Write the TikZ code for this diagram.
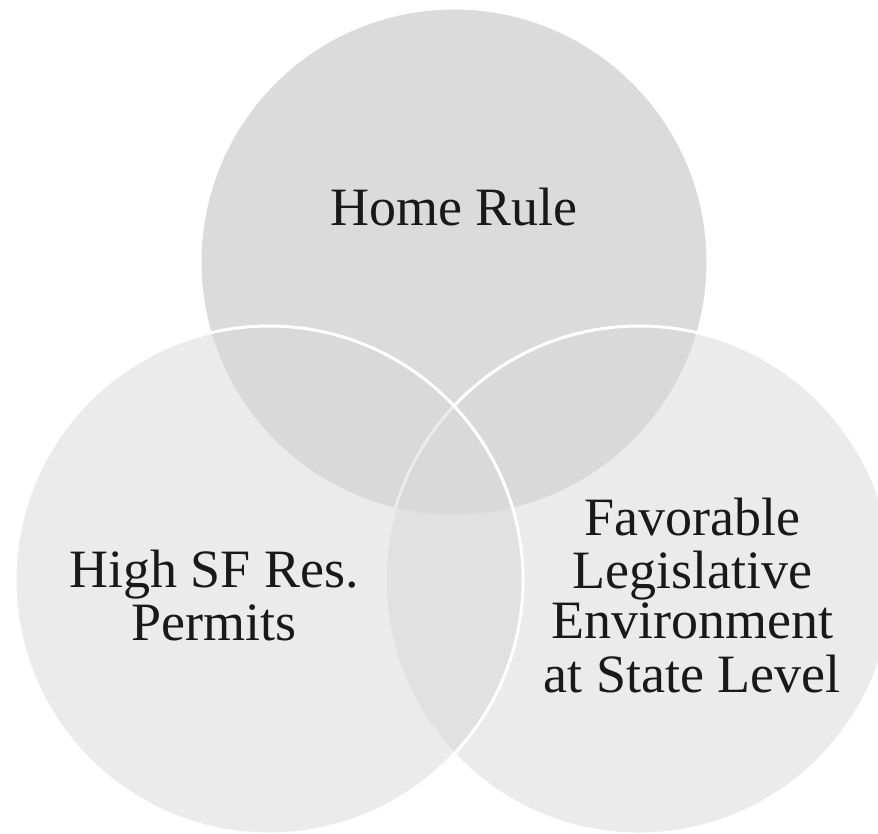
\documentclass[tikz,border=0pt]{standalone}
\usepackage{fontspec}
\setmainfont{Liberation Serif}
\definecolor{topfill}{gray}{0.725}
\definecolor{sidefill}{gray}{0.851}
\definecolor{txt}{gray}{0.1}
\begin{document}
\begin{tikzpicture}[x=0.75pt,y=-0.75pt,
  venn/.style={draw=white, line width=2.25pt, fill opacity=0.5},
  lbl/.style={anchor=base, inner sep=0pt, text=txt, font=\fontsize{40.5}{39.5}\selectfont}]
\useasboundingbox (0,0) rectangle (878,833);
\fill[white] (0,0) rectangle (878,833);
\path[venn, fill=topfill] (454,262) circle[radius=254];
\path[venn, fill=sidefill] (639,580) circle[radius=254];
\path[venn, fill=sidefill] (269,580) circle[radius=254];
\node[lbl] (home) at (454,225) {Home Rule};
\node[lbl] (lefta) at (214,587) {High SF Res.};
\node[lbl] (leftb) at (214,640) {Permits};
\node[lbl] (righta) at (692,535) {Favorable};
\node[lbl] (rightb) at (692,588) {Legislative};
\node[lbl] (rightc) at (692,638) {Environment};
\node[lbl] (rightd) at (692,692) {at State Level};
\end{tikzpicture}
\end{document}
